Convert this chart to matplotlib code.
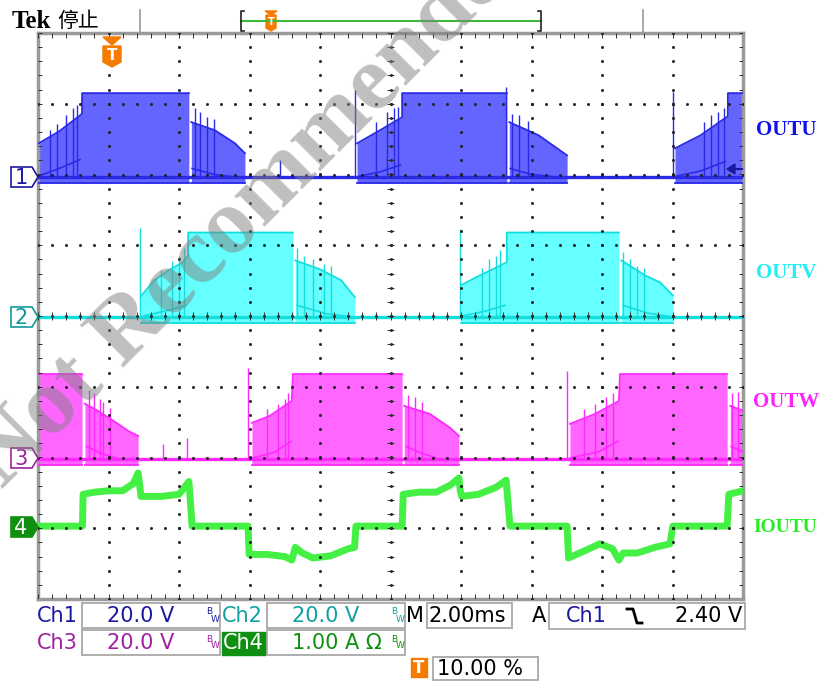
import numpy as np
import matplotlib
matplotlib.use("Agg")
from matplotlib import pyplot as plt
from matplotlib.patches import Polygon, Rectangle

# 时间轴 ms (10 格 x 2 ms), 纵轴单位: 格
# 各通道: V (20 V/格) 或 A (1 A/格)

# OUTU 通道1
ch1_t = [0.00, 0.60, 1.19, 1.25, 1.25, 4.28, 4.28, 4.35, 4.35, 5.02, 5.59, 5.87, 5.87,
         9.05, 9.05, 9.70, 10.28, 10.33, 10.33, 13.30, 13.30, 13.37, 13.37, 14.20, 15.01, 15.01,
         18.07, 18.07, 18.80, 19.53, 19.57, 19.57, 20.00]
ch1_hi = [9.5, 13.0, 17.5, 18.0, 23.8, 23.8, 0, 0, 15.6, 13.3, 9.6, 6.8, 0,
          0, 9.6, 13.3, 16.7, 17.0, 23.8, 23.8, 0, 0, 15.6, 11.9, 6.2, 0,
          0, 8.2, 11.9, 17.0, 17.2, 23.8, 23.8]
ch1_inner_t = [0.0, 0.6, 1.19, np.nan, 4.37, 5.0, 5.5, np.nan, 9.1, 9.7, 10.28, np.nan,
               13.4, 14.0, 14.6, np.nan, 18.1, 18.8, 19.5]
ch1_inner_v = [0.3, 2.5, 5.0, np.nan, 2.5, 0.8, 0.2, np.nan, 0.3, 1.5, 3.5, np.nan,
               2.5, 0.8, 0.2, np.nan, 0.3, 1.8, 4.5]
ch1_spike_t = [8.99, 18.01, 6.87, 13.27, 0.35, 0.55, 0.8, 1.0, 1.1, 4.45, 4.6, 4.8, 5.0,
               9.6, 9.9, 10.1, 10.2, 13.45, 13.65, 13.9, 18.9, 19.1, 19.3, 19.45]
ch1_spike_v = [24.6, 24.0, 4.8, 25.5, 13.5, 15.0, 17.5, 19.5, 20.5, 19.5, 18.5, 17.0, 16.5,
               15.5, 18.5, 19.5, 19.8, 18.0, 17.5, 16.0, 15.5, 17.5, 18.5, 19.5]

# OUTV 通道2
ch2_t = [0, 2.92, 2.92, 3.30, 3.70, 4.10, 4.26, 4.26, 7.23, 7.23, 7.30, 7.30, 8.00, 8.60, 8.99, 8.99,
         12.00, 12.00, 12.54, 12.96, 13.30, 13.30, 16.48, 16.48, 16.55, 16.55, 17.22, 17.65, 18.01, 18.01, 20.0]
ch2_hi = [0, 0, 6.0, 10.5, 13.3, 15.5, 17.5, 24.0, 24.0, 0, 0, 16.1, 13.6, 10.5, 5.7, 0,
          0, 9.1, 11.9, 13.9, 15.6, 24.0, 24.0, 0, 0, 16.1, 11.9, 9.9, 6.2, 0, 0]
ch2_inner_t = [2.95, 3.6, 4.2, np.nan, 7.35, 8.2, 8.9, np.nan, 12.0, 12.7, 13.25, np.nan, 16.6, 17.3, 17.95]
ch2_inner_v = [0.3, 1.8, 3.4, np.nan, 3.4, 1.0, 0.2, np.nan, 0.3, 1.8, 3.4, np.nan, 3.4, 1.2, 0.2]
ch2_spike_t = [2.89, 11.97, 3.5, 3.8, 4.0, 4.15, 7.35, 7.55, 7.8, 8.1, 8.3,
               12.6, 12.8, 13.0, 13.1, 16.6, 16.8, 17.0, 17.2]
ch2_spike_v = [25.2, 24.9, 13.5, 16.0, 17.5, 19.5, 19.5, 17.5, 16.5, 15.0, 14.5,
               14.0, 16.5, 17.5, 19.0, 18.5, 16.5, 14.5, 14.0]

# OUTW 通道3
ch3_t = [0, 1.25, 1.25, 1.33, 1.33, 1.70, 2.27, 2.56, 2.84, 2.84, 6.07, 6.07, 6.58, 7.20, 7.23,
         10.33, 10.33, 10.39, 10.39, 11.12, 11.69, 11.94, 11.94, 15.09, 15.09, 15.80, 16.48, 16.51,
         19.55, 19.55, 19.64, 19.64, 20.0]
ch3_hi = [24.0, 24.0, 0, 0, 15.6, 13.6, 9.9, 7.9, 6.5, 0, 0, 10.2, 12.2, 16.4, 24.0,
          24.0, 0, 0, 15.0, 12.7, 8.8, 6.5, 0, 0, 9.9, 12.7, 16.4, 24.0,
          24.0, 0, 0, 15.0, 13.6]
ch3_inner_t = [1.38, 1.8, 2.2, np.nan, 6.1, 6.7, 7.18, np.nan, 10.45, 10.9, 11.3, np.nan,
               15.1, 15.9, 16.45, np.nan, 19.66, 20.0]
ch3_inner_v = [3.5, 1.5, 0.3, np.nan, 0.3, 1.8, 5.0, np.nan, 3.5, 1.5, 0.3, np.nan,
               0.3, 2.0, 5.0, np.nan, 3.5, 2.0]
ch3_spike_t = [5.96, 15.01, 3.56, 4.22, 1.45, 1.6, 1.75, 1.85, 2.05, 10.5, 10.7, 10.9,
               6.5, 6.8, 7.0, 7.1, 15.5, 15.8, 16.1, 16.3, 19.7, 19.85]
ch3_spike_v = [25.8, 24.9, 4.2, 6.0, 19.5, 18.5, 17.0, 16.0, 14.5, 18.0, 17.5, 16.0,
               14.0, 15.5, 17.0, 18.5, 14.0, 15.5, 17.5, 18.5, 18.5, 19.0]

# IOUTU 通道4 (A)
ch4_t = [0, 1.26, 1.28, 1.6, 2.0, 2.4, 2.7, 2.84, 2.88, 2.92, 3.5, 4.0, 4.28, 4.33, 4.37,
         5.96, 5.99, 6.5, 7.0, 7.2, 7.3, 7.5, 7.8, 8.3, 8.8, 8.98, 9.02,
         10.33, 10.36, 10.8, 11.3, 11.7, 11.94, 11.98, 12.02, 12.5, 13.0, 13.28, 13.34, 13.39,
         15.01, 15.05, 15.5, 15.94, 16.3, 16.48, 16.6, 17.0, 17.5, 17.93, 18.01, 19.55, 19.6, 20.0]
ch4_v = [0, 0, 0.45, 0.48, 0.5, 0.5, 0.6, 0.75, 0.6, 0.42, 0.42, 0.45, 0.63, 0.3, 0,
         0, -0.4, -0.4, -0.43, -0.48, -0.3, -0.38, -0.45, -0.42, -0.32, -0.3, 0,
         0, 0.45, 0.48, 0.48, 0.58, 0.68, 0.5, 0.42, 0.45, 0.55, 0.65, 0.3, 0,
         0, -0.45, -0.35, -0.25, -0.32, -0.48, -0.38, -0.38, -0.3, -0.25, 0, 0, 0.45, 0.5]

# 通道设置
scale = {1: 20.0, 2: 20.0, 3: 20.0, 4: 1.0}
offset = {1: 1.96, 2: -0.02, 3: -2.02, 4: -2.97}
fillc = {1: '#6464ff', 2: '#66ffff', 3: '#ff66ff'}
edgec = {1: '#2a2ae6', 2: '#12dede', 3: '#ff28ff', 4: '#44f044'}

fig = plt.figure(figsize=(8.19, 6.81), dpi=100)
W, H = 819, 681
ax = fig.add_axes([38 / W, (H - 599) / H, (743 - 38) / W, (599 - 33) / H])
ax.set_xlim(0, 20)
ax.set_ylim(-4, 4)
ax.set_xticks([])
ax.set_yticks([])
for s in ax.spines.values():
    s.set_color('#9a9a9a')
    s.set_linewidth(2.5)


def draw_pwm(ch, t, hi, it, iv, st, sv):
    t = np.array(t, float)
    hi = np.array(hi, float)
    k, o = scale[ch], offset[ch]
    lo = np.where(hi > 0, -1.6, 0.0)
    ax.fill_between(t, lo / k + o, hi / k + o, color=fillc[ch], lw=0, zorder=2)
    ax.plot(t, np.where(hi > 0, hi, np.nan) / k + o, color=edgec[ch], lw=1.3, zorder=3)
    ax.plot(t, np.where(hi > 0, lo, np.nan) / k + o, color=edgec[ch], lw=1.3, zorder=3)
    ax.plot([0, 20], [o, o], color=edgec[ch], lw=2.4, zorder=3)
    ax.plot(it, np.array(iv) / k + o, color=edgec[ch], lw=1.2, zorder=3)
    ax.vlines(st, o, np.array(sv) / k + o, color=edgec[ch], lw=1.0, zorder=3)


draw_pwm(1, ch1_t, ch1_hi, ch1_inner_t, ch1_inner_v, ch1_spike_t, ch1_spike_v)
draw_pwm(2, ch2_t, ch2_hi, ch2_inner_t, ch2_inner_v, ch2_spike_t, ch2_spike_v)
draw_pwm(3, ch3_t, ch3_hi, ch3_inner_t, ch3_inner_v, ch3_spike_t, ch3_spike_v)
ax.plot(ch4_t, np.array(ch4_v) / scale[4] + offset[4], color=edgec[4], lw=5, zorder=3,
        solid_joinstyle='round')

# 网格点
gx = np.arange(0, 20.01, 0.4)
gy = np.arange(-4, 4.01, 0.2)
dot = dict(ls='none', marker='s', ms=1.0, color='#202020', zorder=5)
for yy in range(-3, 4):
    ax.plot(gx, np.full_like(gx, yy), **dot)
for xx in range(2, 20, 2):
    ax.plot(np.full_like(gy, xx), gy, **dot)
# 中心刻度与边框刻度
tk = dict(color='#303030', lw=0.7, zorder=5)
ax.vlines(gx, -0.05, 0.05, **tk)
ax.hlines(gy, 9.9, 10.1, **tk)
ax.vlines(gx, 3.93, 4, **tk)
ax.vlines(gx, -4, -3.93, **tk)
ax.hlines(gy, 0, 0.12, **tk)
ax.hlines(gy, 19.88, 20, **tk)

# 叠加层 (像素坐标)
ov = fig.add_axes([0, 0, 1, 1])
ov.set_xlim(0, W)
ov.set_ylim(H, 0)
ov.axis('off')
ov.patch.set_visible(False)

ov.text(12, 21, 'Tek', fontsize=18, fontweight='bold', family='Liberation Serif', va='center')
ov.text(57, 21, '停止', fontsize=15, family=['Noto Sans CJK SC', 'DejaVu Sans'], va='center')
ov.plot([140, 140], [10, 33], color='#9a9a9a', lw=1.2)
ov.plot([643, 643], [10, 33], color='#9a9a9a', lw=1.2)
ov.plot([241, 541], [21, 21], color='#3cb83c', lw=1.5)
ov.plot([244, 241, 241, 244], [11, 11, 31, 31], color='#222222', lw=1.2)
ov.plot([538, 541, 541, 538], [11, 11, 31, 31], color='#222222', lw=1.2)
orange = '#f57a00'
ov.add_patch(Polygon([(265, 11), (277, 11), (271, 15)], color=orange))
ov.add_patch(Polygon([(266, 15), (276, 15), (276, 28), (271, 31), (266, 28)], color=orange))
ov.text(271, 22, 'T', fontsize=7, fontweight='bold', color='white', ha='center', va='center')

ov.add_patch(Polygon([(103, 37), (121, 37), (112, 45)], color=orange))
ov.add_patch(Polygon([(103, 46), (121, 46), (121, 62), (112, 67), (103, 62)], color=orange))
ov.text(112, 55, 'T', fontsize=11, fontweight='bold', color='white', ha='center', va='center')

# 通道标记
marks = [(1, 177, '#1a1aa0', False), (2, 317, '#109a9a', False),
         (3, 458, '#a020a0', False), (4, 527, '#109010', True)]
for n, y, c, filled in marks:
    pts = [(11, y - 10), (32, y - 10), (38, y), (32, y + 10), (11, y + 10)]
    ov.add_patch(Polygon(pts, closed=True, facecolor=c if filled else 'white', edgecolor=c, lw=1.2))
    ov.text(21, y + 1, str(n), fontsize=15, color='white' if filled else c, ha='center', va='center')

# 通道1触发电平箭头
ov.add_patch(Polygon([(727, 169), (735, 164), (735, 174)], color='#1a1aa0'))
ov.plot([735, 742], [169, 169], color='#1a1aa0', lw=1.5)

# 右侧信号名
lab_font = dict(family='Liberation Serif', fontweight='bold', ha='center', va='center')
ov.text(786, 130, 'OUTU', color='#1010ee', fontsize=15, **lab_font)
ov.text(786, 273, 'OUTV', color='#22f0f0', fontsize=15, **lab_font)
ov.text(786, 402, 'OUTW', color='#ff22ff', fontsize=15, **lab_font)
ov.text(785, 527, 'IOUTU', color='#22ee22', fontsize=14, **lab_font)

# 底部信息栏
box_c = '#a8a8a8'
for x0, x1, y0, y1 in [(82, 220, 603, 628), (267, 405, 603, 628), (427, 512, 603, 628),
                       (549, 745, 603, 629), (82, 220, 630, 655), (267, 405, 630, 655),
                       (433, 538, 657, 680)]:
    ov.add_patch(Rectangle((x0, y0), x1 - x0, y1 - y0, fill=False, edgecolor=box_c, lw=1.3))
ov.add_patch(Rectangle((222, 632), 43, 23, color='#109010'))
ov.add_patch(Rectangle((411, 658), 16, 19, color=orange))
ov.text(419, 668, 'T', fontsize=12, fontweight='bold', color='white', ha='center', va='center')

inf = dict(fontsize=15, family='DejaVu Sans', va='center')
c1, c2, c3, c4 = '#1a1aa0', '#10a0a0', '#a020a0', '#109010'
ov.text(37, 616, 'Ch1', color=c1, **inf)
ov.text(107, 616, '20.0 V', color=c1, **inf)
ov.text(222, 616, 'Ch2', color=c2, **inf)
ov.text(292, 616, '20.0 V', color=c2, **inf)
ov.text(406, 616, 'M', color='black', **inf)
ov.text(429, 616, '2.00ms', color='black', **inf)
ov.text(532, 616, 'A', color='black', **inf)
ov.text(566, 616, 'Ch1', color=c1, **inf)
ov.plot([627, 633, 637, 642], [609, 609, 623, 623], color='black', lw=2)
ov.text(742, 616, '2.40 V', color='black', ha='right', fontsize=15, family='DejaVu Sans', va='center')
ov.text(37, 643, 'Ch3', color=c3, **inf)
ov.text(107, 643, '20.0 V', color=c3, **inf)
ov.text(223, 643, 'Ch4', color='white', **inf)
ov.text(292, 643, '1.00 A Ω', color=c4, **inf)
ov.text(437, 669, '10.00 %', color='black', **inf)
for x, y, c in [(206, 616, c1), (391, 616, c2), (206, 643, c3), (391, 643, c4)]:
    ov.text(x, y - 4, 'B', fontsize=6.5, color=c, va='center')
    ov.text(x + 5, y + 3, 'W', fontsize=6.5, color=c, va='center')

# 水印
ov.text(2, 490, 'Not Recommended for New Design', fontsize=68, fontweight='bold',
        family='Liberation Serif', color='#808080', alpha=0.5, rotation=45,
        rotation_mode='anchor', ha='left', va='baseline', zorder=10)

fig.savefig('out.png', dpi=100)
